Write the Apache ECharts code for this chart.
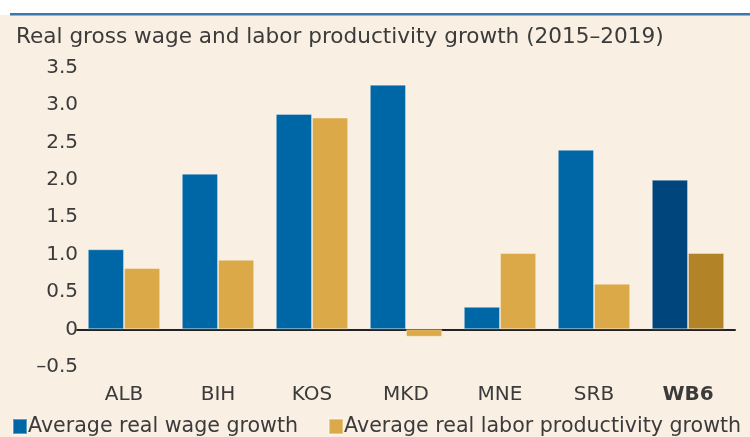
<!DOCTYPE html>
<html><head><meta charset="utf-8">
<script src="https://cdn.jsdelivr.net/npm/echarts@6/dist/echarts.min.js"></script>
<style>html,body{margin:0;padding:0;background:#fff}#c{width:750px;height:437px}</style>
</head><body><div id="c"></div>
<script>
const title = 'Real gross wage and labor productivity growth (2015–2019)';
const categories = ['ALB', 'BIH', 'KOS', 'MKD', 'MNE', 'SRB', 'WB6'];
const wageGrowth = [1.07, 2.08, 2.88, 3.27, 0.30, 2.40, 2.00];
const productivityGrowth = [0.82, 0.93, 2.83, -0.10, 1.02, 0.61, 1.02];
const seriesNames = ['Average real wage growth', 'Average real labor productivity growth'];
const yTicks = { min: -0.5, max: 3.5, interval: 0.5 };

const FONT = 'DejaVu Sans';
const chart = echarts.init(document.getElementById('c'), null, { renderer: 'canvas' });
const hi = 'WB6';
function items(vals, normal, dark) {
  return vals.map((v, i) => ({ value: v, itemStyle: { color: categories[i] === hi ? dark : normal } }));
}
chart.setOption({
  backgroundColor: '#fff',
  animation: false,
  graphic: [
    { type: 'rect', shape: { x: 0, y: 15, width: 750, height: 422 }, style: { fill: '#FAEFE3' }, z: -10 },
    { type: 'rect', shape: { x: 10, y: 13, width: 740, height: 2.5 }, style: { fill: '#3A78B0' }, z: -9 }
  ],
  title: {
    text: title, left: 11, top: 21,
    textStyle: { fontFamily: FONT, fontSize: 21.6, fontWeight: 'normal', color: '#3b3b3b' }
  },
  legend: {
    left: 12, bottom: 0, width: 738, padding: 0, itemGap: 30, itemWidth: 14, itemHeight: 15,
    icon: 'rect',
    textStyle: { fontFamily: FONT, fontSize: 20.6, color: '#3b3b3b', padding: [0, 0, 0, -4] },
    data: seriesNames
  },
  grid: { left: 77, right: 15, top: 67.5, bottom: 70.3, containLabel: false },
  xAxis: {
    type: 'category', data: categories,
    axisLine: { onZero: true, lineStyle: { color: '#222', width: 2 } },
    axisTick: { show: false },
    axisLabel: {
      interval: 0, margin: 18, fontFamily: FONT, fontSize: 20, color: '#3b3b3b',
      formatter: v => v === hi ? '{b|' + v + '}' : v,
      rich: { b: { fontFamily: FONT, fontSize: 20, fontWeight: 'bold', color: '#3b3b3b' } }
    }
  },
  yAxis: {
    type: 'value', min: yTicks.min, max: yTicks.max, interval: yTicks.interval,
    splitLine: { show: false },
    axisLine: { show: false }, axisTick: { show: false },
    axisLabel: {
      margin: -1, fontFamily: FONT, fontSize: 20, color: '#3b3b3b',
      formatter: v => v === 0 ? '0' : (v < 0 ? '–' + Math.abs(v).toFixed(1) : v.toFixed(1))
    }
  },
  series: [
    {
      name: seriesNames[0], type: 'bar', data: items(wageGrowth, '#0067A6', '#00457C'),
      itemStyle: { color: '#0067A6', borderColor: 'rgba(255,255,255,0.35)', borderWidth: 1 },
      barGap: '0%', barCategoryGap: '23%'
    },
    {
      name: seriesNames[1], type: 'bar', data: items(productivityGrowth, '#DBA948', '#B38427'),
      itemStyle: { color: '#DBA948', borderColor: 'rgba(255,255,255,0.35)', borderWidth: 1 },
      barGap: '0%', barCategoryGap: '23%'
    }
  ]
});
</script></body></html>
